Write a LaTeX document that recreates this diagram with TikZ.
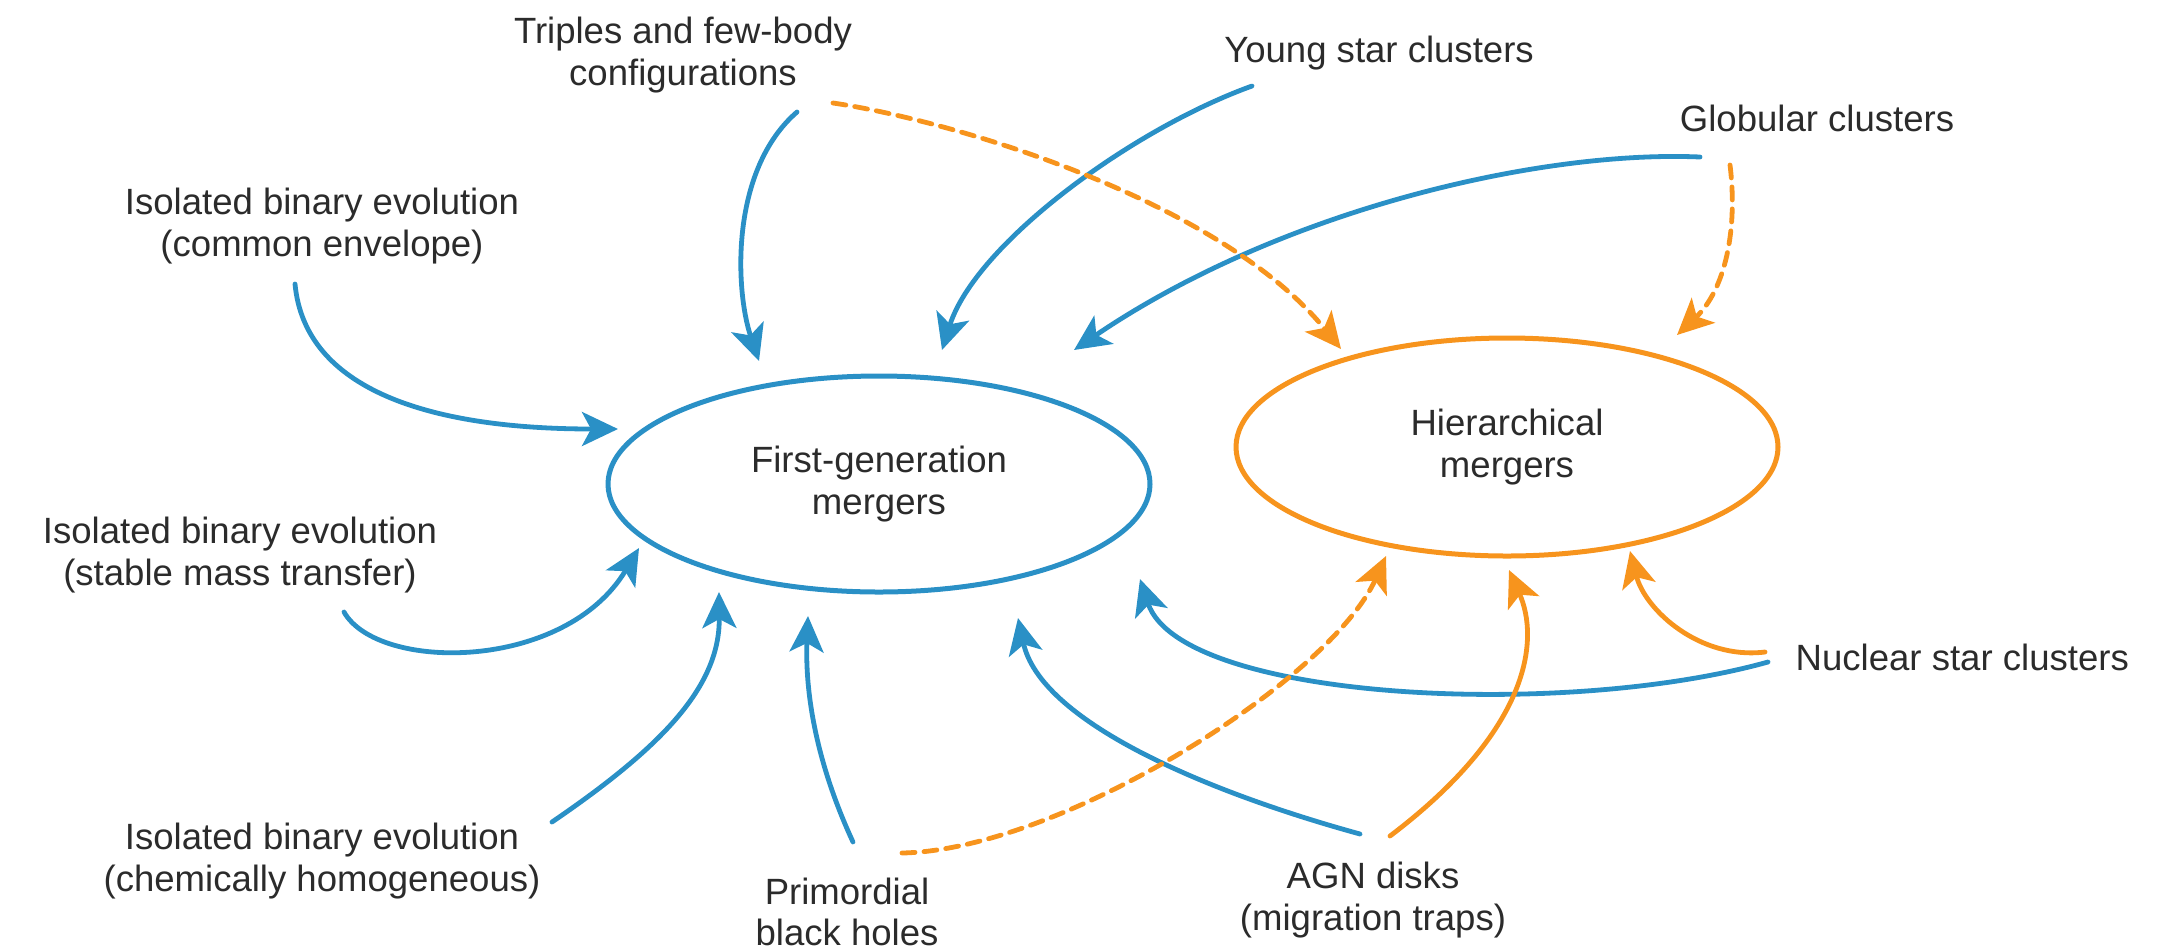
\documentclass[tikz,border=0pt]{standalone}
\usepackage{fontspec}
\setmainfont{Liberation Sans}
\usetikzlibrary{arrows.meta,shapes.geometric}

\definecolor{channelblue}{HTML}{2A90C6}
\definecolor{hierorange}{HTML}{F7941D}
\definecolor{labelgray}{HTML}{2B2B2B}

\begin{document}
\begin{tikzpicture}[
  x=0.1mm,
  y=-0.1mm,
  line cap=round,
  label/.style={align=center,inner sep=0pt,text=labelgray,font=\fontsize{10.4}{11.7}\selectfont},
  merger/.style={ellipse,line width=0.5mm,minimum width=54.2mm,minimum height=21.6mm,inner sep=0pt,
    align=center,text=labelgray,font=\fontsize{10.4}{11.9}\selectfont},
  tip/.style={-{Stealth[length=3.6mm,width=3.4mm,inset=0.9mm]}},
  bluepath/.style={tip,color=channelblue,line width=0.48mm},
  orangepath/.style={tip,color=hierorange,line width=0.48mm},
  orangedash/.style={orangepath,dash pattern=on 1.3mm off 0.9mm}
]
  % Match the original artwork frame.
  \useasboundingbox (0,0) rectangle (2183,951);

  % The two merger populations.
  \node[merger,draw=channelblue] (firstgen) at (879,484) {First-generation\\mergers};
  \node[merger,draw=hierorange,minimum height=21.8mm] (hier) at (1507,447) {Hierarchical\\mergers};

  % Formation channels.
  \node[label] (triples) at (683,55) {Triples and few-body\\configurations};
  \node[label] (young) at (1379,53) {Young star clusters};
  \node[label] (globular) at (1817,118) {Globular clusters};
  \node[label] (commonenv) at (322,226) {Isolated binary evolution\\(common envelope)};
  \node[label] (stablemt) at (240,555) {Isolated binary evolution\\(stable mass transfer)};
  \node[label] (chemhom) at (322,861) {Isolated binary evolution\\(chemically homogeneous)};
  \node[label] (primordial) at (847,912) {Primordial\\black holes};
  \node[label] (agn) at (1373,900) {AGN disks\\(migration traps)};
  \node[label,anchor=base west] (nuclear) at (1795,670) {Nuclear star clusters};

  % Start points of the channel arrows, just off their labels.
  \coordinate (triplesBlue) at (797,112);
  \coordinate (triplesOrange) at (833,103);
  \coordinate (youngStart) at (1252,86);
  \coordinate (globularBlue) at (1700,157);
  \coordinate (globularOrange) at (1730,165);
  \coordinate (commonenvStart) at (295,284);
  \coordinate (stablemtStart) at (344,612);
  \coordinate (chemhomStart) at (552,822);
  \coordinate (primordialBlue) at (853,842);
  \coordinate (primordialOrange) at (902,853);
  \coordinate (agnBlue) at (1360,834);
  \coordinate (agnOrange) at (1390,836);
  \coordinate (nuclearBlue) at (1768,662);
  \coordinate (nuclearOrange) at (1765,652);

  % Arrow tips, stopping short of the ellipses.
  \coordinate (firstgenTriples) at (759,361);
  \coordinate (firstgenYoung) at (942,350);
  \coordinate (firstgenGlobular) at (1074,350);
  \coordinate (firstgenCommonenv) at (618,429);
  \coordinate (firstgenStablemt) at (639,548);
  \coordinate (firstgenChemhom) at (719,592);
  \coordinate (firstgenPrimordial) at (808,616);
  \coordinate (firstgenAgn) at (1018,618);
  \coordinate (firstgenNuclear) at (1140,579);
  \coordinate (hierTriples) at (1341,349);
  \coordinate (hierGlobular) at (1677,335);
  \coordinate (hierPrimordial) at (1386,556);
  \coordinate (hierAgn) at (1509,570);
  \coordinate (hierNuclear) at (1630,551);

  % Blue channels feed the first-generation mergers.
  \draw[bluepath] (triplesBlue) .. controls (730,170) and (735,290) .. (firstgenTriples);
  \draw[bluepath] (youngStart) .. controls (1130,130) and (975,245) .. (firstgenYoung);
  \draw[bluepath] (globularBlue) .. controls (1540,150) and (1280,210) .. (firstgenGlobular);
  \draw[bluepath] (commonenvStart) .. controls (305,390) and (430,429) .. (firstgenCommonenv);
  \draw[bluepath] (stablemtStart) .. controls (378,672) and (565,672) .. (firstgenStablemt);
  \draw[bluepath] (chemhomStart) .. controls (665,745) and (720,685) .. (firstgenChemhom);
  \draw[bluepath] (primordialBlue) .. controls (815,760) and (805,690) .. (firstgenPrimordial);
  \draw[bluepath] (agnBlue) .. controls (1200,790) and (1040,720) .. (firstgenAgn);
  \draw[bluepath] (nuclearBlue) .. controls (1560,720) and (1180,700) .. (firstgenNuclear);

  % Orange channels feed the hierarchical mergers.
  \draw[orangedash] (triplesOrange) .. controls (950,120) and (1220,200) .. (hierTriples);
  \draw[orangedash] (globularOrange) .. controls (1738,230) and (1725,290) .. (hierGlobular);
  \draw[orangedash] (primordialOrange) .. controls (1060,850) and (1330,680) .. (hierPrimordial);
  \draw[orangepath] (agnOrange) .. controls (1530,730) and (1540,640) .. (hierAgn);
  \draw[orangepath] (nuclearOrange) .. controls (1700,660) and (1645,610) .. (hierNuclear);
\end{tikzpicture}
\end{document}
